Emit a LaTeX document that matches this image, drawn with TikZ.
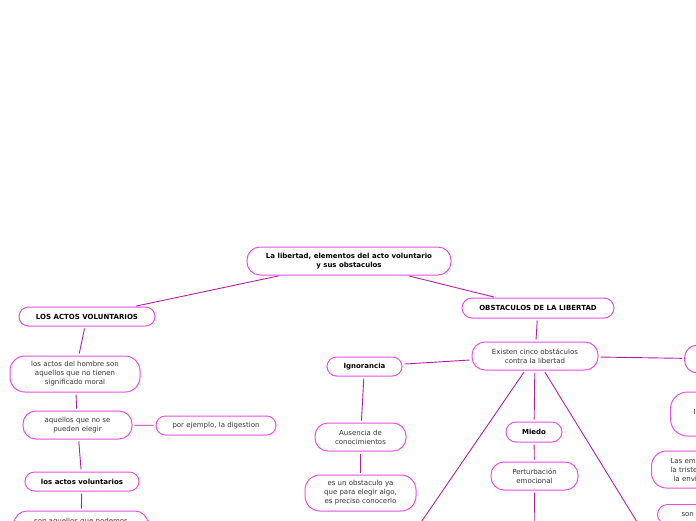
\documentclass[tikz,border=0pt]{standalone}
\usepackage{fontspec}
\setmainfont{DejaVu Sans}
\usepackage{xcolor}
\usetikzlibrary{positioning}

\definecolor{mapedge}{RGB}{228,82,228}
\definecolor{maplink}{RGB}{178,32,162}
\definecolor{maptext}{RGB}{51,51,51}

\begin{document}
\begin{tikzpicture}[
  x=1pt, y=-1pt,
  idea/.style={draw=mapedge, line width=1pt, fill=white, rounded corners=13pt,
               align=center, inner sep=0pt, text=maptext,
               font=\fontsize{7}{9}\selectfont},
  topic/.style={idea, rounded corners=9.5pt, minimum height=19pt, text=black,
                font=\fontsize{7}{9}\selectfont\bfseries},
  link/.style={draw=maplink, line width=0.9pt, shorten <=2pt, shorten >=2pt},
]
\useasboundingbox (0,0) rectangle (696,520);
\clip (0,0) rectangle (696,520);

% centre
\node[topic, minimum width=204pt, minimum height=28pt, rounded corners=13pt] (root)
  at (349,261) {La libertad, elementos del acto voluntario\\y sus obstaculos};

% left branch
\node[topic, minimum width=136pt] (actos) at (87,316.5) {LOS ACTOS VOLUNTARIOS};
\node[idea, minimum width=130pt, minimum height=36pt, rounded corners=15pt] (hombre)
  at (75,374) {los actos del hombre son\\aquellos que no tienen\\significado moral};
\node[idea, minimum width=109pt, minimum height=28pt] (noelegir)
  at (77.5,425) {aquellos que no se\\pueden elegir};
\node[idea, minimum width=120pt, minimum height=19pt, rounded corners=9.5pt] (digestion)
  at (216,425.5) {por ejemplo, la digestion};
\node[topic, minimum width=114pt] (volunt) at (82,481.5) {los actos voluntarios};
\node[idea, minimum width=134pt, minimum height=22pt] (podemos)
  at (81,522) {son aquellos que podemos};

% right branch
\node[topic, minimum width=152pt, minimum height=20pt, rounded corners=10pt] (obstac)
  at (538,308) {OBSTACULOS DE LA LIBERTAD};
\node[idea, minimum width=126pt, minimum height=28pt] (cinco)
  at (535,356) {Existen cinco obstáculos\\contra la libertad};
\node[topic, minimum width=75pt] (ignor) at (364.5,366.5) {Ignorancia};
\node[idea, minimum width=91pt, minimum height=28pt] (ausencia)
  at (360.5,437) {Ausencia de\\conocimientos};
\node[idea, minimum width=111pt, minimum height=36pt, rounded corners=15pt] (conocer)
  at (360.5,493) {es un obstaculo ya\\que para elegir algo,\\es preciso conocerlo};
\node[topic, minimum width=56pt, minimum height=20pt, rounded corners=10pt] (miedo)
  at (534,432) {Miedo};
\node[idea, minimum width=87pt, minimum height=28pt] (perturb)
  at (534.5,476) {Perturbación\\emocional};

% cut off at the right edge
\node[topic, anchor=west, minimum width=80pt, minimum height=28pt, rounded corners=13pt]
  (obstA) at (684,359) {};
\node[idea, anchor=west, minimum height=44pt, rounded corners=17pt, text width=100pt,
  align=left] (obstB) at (670,414) {\hspace*{23pt}\raisebox{5pt}{I}};
\node[idea, anchor=west, minimum height=37pt, rounded corners=15pt, text width=100pt,
  align=left] (obstC) at (651,469.5)
  {\hspace*{19pt}Las emociones\\\hspace*{19pt}la tristeza\\\hspace*{22pt}la envidia};
\node[idea, anchor=north west, minimum height=20pt, rounded corners=10pt, text width=100pt,
  align=left] (obstD) at (657,504) {\hspace*{24pt}son};

% ends below the frame
\coordinate (offL) at (389,569);
\coordinate (offR) at (666,569);
\coordinate (offM) at (535,570);

\draw[link] (root) -- (actos);
\draw[link] (root) -- (obstac);
\draw[link] (actos) -- (hombre);
\draw[link] (hombre) -- (noelegir);
\draw[link] (noelegir) -- (digestion);
\draw[link] (noelegir) -- (volunt);
\draw[link] (volunt) -- (podemos);
\draw[link] (obstac) -- (cinco);
\draw[link] (cinco) -- (ignor);
\draw[link] (cinco) -- (obstA);
\draw[link] (cinco) -- (miedo);
\draw[link] (cinco) -- (offL);
\draw[link] (cinco) -- (offR);
\draw[link] (ignor) -- (ausencia);
\draw[link] (ausencia) -- (conocer);
\draw[link] (miedo) -- (perturb);
\draw[link] (perturb) -- (offM);
\end{tikzpicture}
\end{document}
